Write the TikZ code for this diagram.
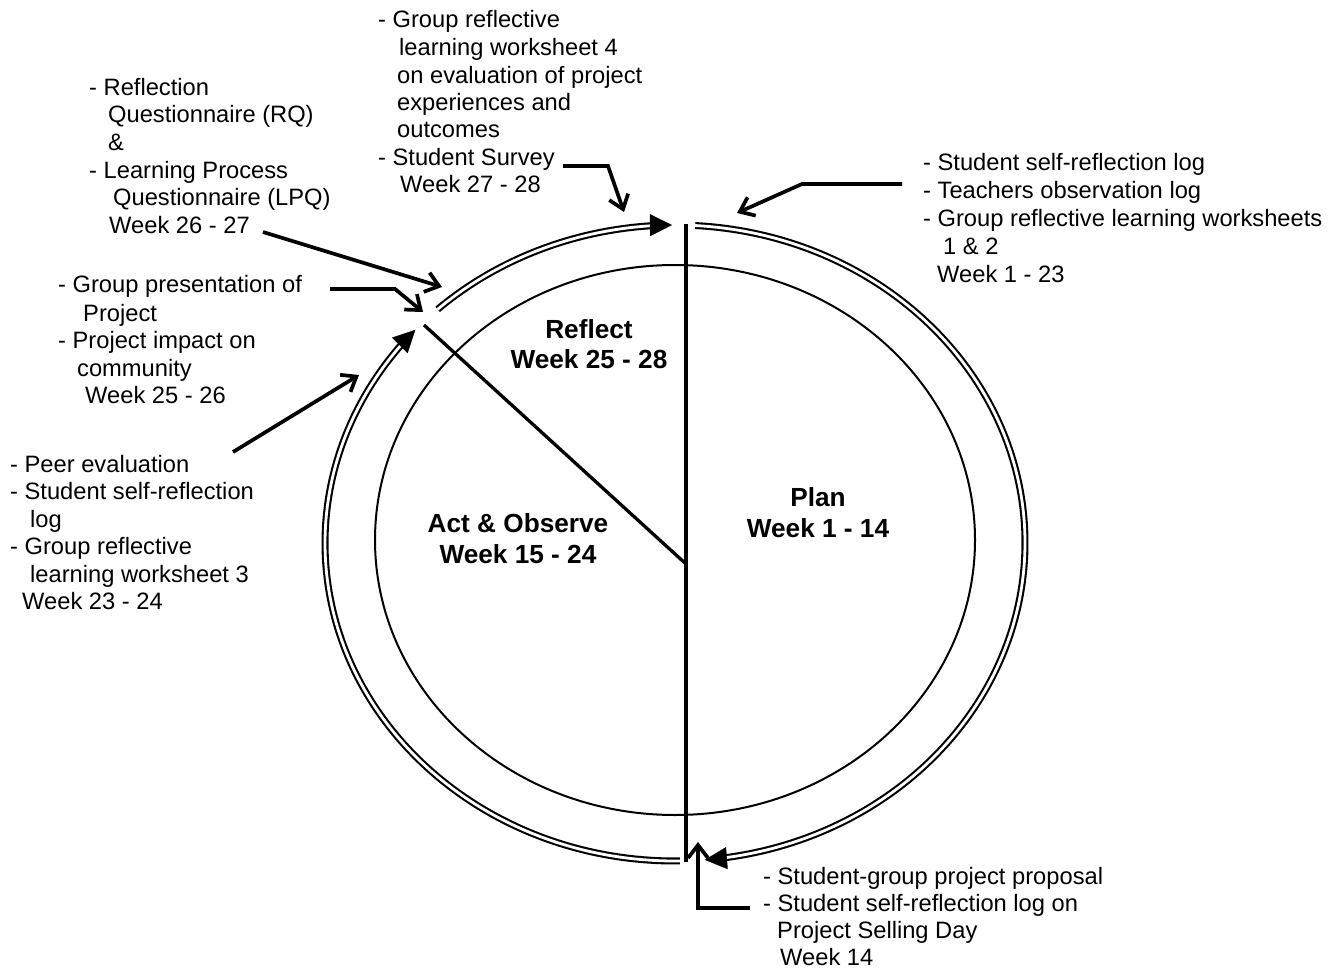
\documentclass[tikz,border=0pt]{standalone}
\usepackage{fontspec}
\setmainfont{Liberation Sans}
\usetikzlibrary{arrows.meta}
\begin{document}
\begin{tikzpicture}[x=1pt,y=-1pt,
  txt/.style={anchor=base west,inner sep=0pt,font=\fontsize{23.7}{27.5}\selectfont},
  lbl/.style={anchor=base,inner sep=0pt,font=\fontsize{26.2}{30}\selectfont\bfseries},
  ring/.style={line width=2.1pt,double,double distance=2.8pt},
  ringtip/.style={line width=0.3pt,-{Triangle[length=22pt,width=22pt]}},
  conn/.style={line width=3.7pt,-{Straight Barb[length=13pt,width=20pt]}},
  divider/.style={line width=3.3pt}]
\useasboundingbox (0,0) rectangle (1341,968);

% inner ellipse
\draw[line width=2pt] (675,540) ellipse[x radius=300,y radius=275];

% outer ring: three arcs with arrow tips
\begin{scope}[shift={(675,543)}]
  % Plan arc
  \draw[ring] (-86.7:350 and 318) arc[start angle=-86.7,end angle=82,x radius=350,y radius=318];
  \draw[ringtip] (81.4:350 and 318) arc[start angle=81.4,end angle=85.1,x radius=350,y radius=318];
  % Act & Observe arc
  \draw[ring] (89.2:350 and 318) arc[start angle=89.2,end angle=219,x radius=350,y radius=318];
  \draw[ringtip] (218.3:350 and 318) arc[start angle=218.3,end angle=222.1,x radius=350,y radius=318];
  % Reflect arc
  \draw[ring] (227.3:350 and 318) arc[start angle=227.3,end angle=266.5,x radius=350,y radius=318];
  \draw[ringtip] (265.9:350 and 318) arc[start angle=265.9,end angle=269.5,x radius=350,y radius=318];
\end{scope}

% dividers
\coordinate (vtop) at (686,224);
\coordinate (vbot) at (686,862);
\coordinate (dstart) at (424,325);
\coordinate (dend) at (686,564);
\draw[divider] (vtop) -- (vbot);
\draw[divider] (dstart) -- (dend);

% phase labels
\node[lbl] (reflect1) at (589,338) {Reflect};
\node[lbl] (reflect2) at (589,368) {Week 25 - 28};
\node[lbl] (act1) at (518,532) {Act \& Observe};
\node[lbl] (act2) at (518,563) {Week 15 - 24};
\node[lbl] (plan1) at (818,506) {Plan};
\node[lbl] (plan2) at (818,537) {Week 1 - 14};

% block A (top centre)
\node[txt] (a1) at (378,28) {- Group reflective};
\node[txt] (a2) at (399,56) {learning worksheet 4};
\node[txt] (a3) at (397,84) {on evaluation of project};
\node[txt] (a4) at (397,111) {experiences and};
\node[txt] (a5) at (397,138) {outcomes};
\node[txt] (a6) at (378,166) {- Student Survey};
\node[txt] (a7) at (400,193) {Week 27 - 28};

% block B (reflection questionnaire)
\node[txt] (b1) at (89,96) {- Reflection};
\node[txt] (b2) at (108,123) {Questionnaire (RQ)};
\node[txt] (b3) at (108,151) {\&};
\node[txt] (b4) at (89,179) {- Learning Process};
\node[txt] (b5) at (113,206) {Questionnaire (LPQ)};
\node[txt] (b6) at (109,234) {Week 26 - 27};

% block C (presentation)
\node[txt] (c1) at (58,293) {- Group presentation of};
\node[txt] (c2) at (83,321) {Project};
\node[txt] (c3) at (58,348) {- Project impact on};
\node[txt] (c4) at (77,376) {community};
\node[txt] (c5) at (85,403) {Week 25 - 26};

% block D (peer evaluation)
\node[txt] (d1) at (10,472) {- Peer evaluation};
\node[txt] (d2) at (10,499) {- Student self-reflection};
\node[txt] (d3) at (30,527) {log};
\node[txt] (d4) at (10,554) {- Group reflective};
\node[txt] (d5) at (30,582) {learning worksheet 3};
\node[txt] (d6) at (22,609) {Week 23 - 24};

% block E (top right)
\node[txt] (e1) at (923,171) {- Student self-reflection log};
\node[txt] (e2) at (923,199) {- Teachers observation log};
\node[txt] (e3) at (923,227) {- Group reflective learning worksheets};
\node[txt] (e4) at (943,255) {1 \& 2};
\node[txt] (e5) at (937,283) {Week 1 - 23};

% block F (bottom right)
\node[txt] (f1) at (763,884) {- Student-group project proposal};
\node[txt] (f2) at (763,911) {- Student self-reflection log on};
\node[txt] (f3) at (777,938) {Project Selling Day};
\node[txt] (f4) at (780,965) {Week 14};

% connectors
\coordinate (sA) at (563,166); \coordinate (kA) at (608,166); \coordinate (tA) at (624,212);
\coordinate (sE) at (902,184); \coordinate (kE) at (802,184); \coordinate (tE) at (737,213);
\coordinate (sB) at (263,232); \coordinate (tB) at (442,287);
\coordinate (sC) at (330,289); \coordinate (kC) at (395,289); \coordinate (tC) at (423,312);
\coordinate (sD) at (233,452); \coordinate (tD) at (359,375);
\coordinate (sF) at (750,908); \coordinate (kF) at (698,908); \coordinate (tF) at (698,842);

\draw[conn] (sA) -- (kA) -- (tA);
\draw[conn] (sE) -- (kE) -- (tE);
\draw[conn] (sB) -- (tB);
\draw[conn] (sC) -- (kC) -- (tC);
\draw[conn] (sD) -- (tD);
\draw[conn] (sF) -- (kF) -- (tF);
\end{tikzpicture}
\end{document}
